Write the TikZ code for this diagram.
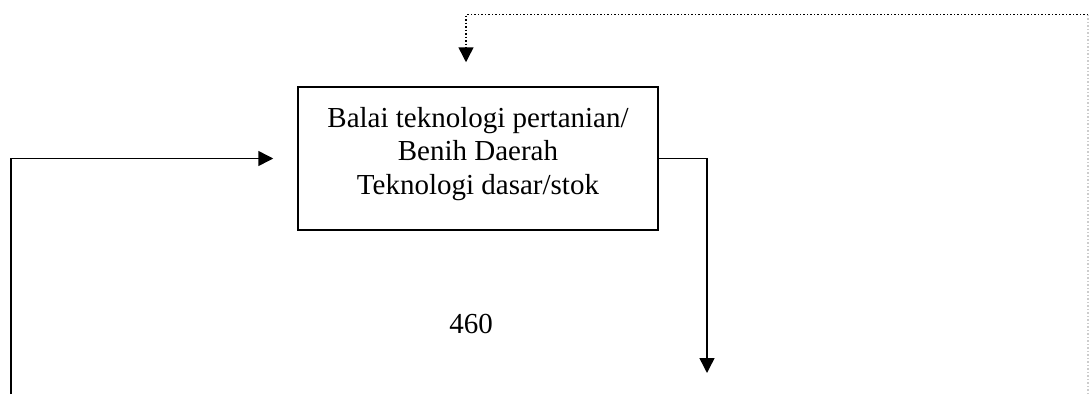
\documentclass[tikz,border=0pt]{standalone}
\usepackage{fontspec}
\setmainfont{Liberation Serif}
\usetikzlibrary{arrows.meta}
\begin{document}
\begin{tikzpicture}[x=1pt,y=-1pt,
  conn/.style={line width=1.5pt,-{Triangle[length=15pt,width=15pt]}},
  dotline/.style={line width=1.5pt,dash pattern=on 1.5pt off 2pt},
  boxstyle/.style={draw,line width=1.5pt,minimum width=360pt,minimum height=143pt,inner sep=0pt},
  txt/.style={font=\fontsize{29}{33.5}\selectfont,inner sep=0pt}]
\useasboundingbox (0,0) rectangle (1090,394);
\node[boxstyle] (box) at (478,158.5) {};
\node[txt,align=center,anchor=north] (boxtext) at (478,107) {Balai teknologi pertanian/\\Benih Daerah\\Teknologi dasar/stok};
\node[txt,anchor=base] (num) at (471,333) {460};
\coordinate (lstart) at (11,394);
\coordinate (rend) at (707,373);
\coordinate (dcorner) at (1088,14.5);
\coordinate (dbottom) at (1088,394);
\coordinate (dleft) at (466,14.5);
\draw[conn,shorten >=24pt] (lstart) |- (box.west);
\draw[conn] (box.east) -| (rend);
\draw[dotline,gray!40] (dbottom) -- (dcorner);
\draw[dotline,-{Triangle[length=15pt,width=15pt]},shorten >=24pt] (dcorner) -- (dleft) -- (dleft |- box.north);
\end{tikzpicture}
\end{document}
